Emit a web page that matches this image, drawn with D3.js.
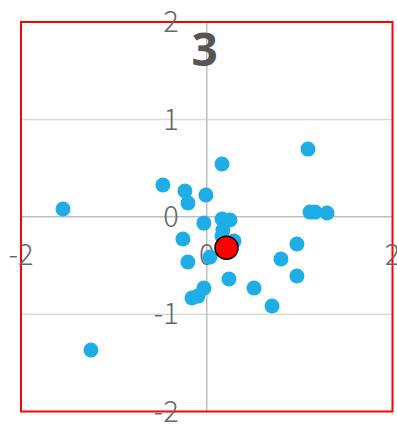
<!DOCTYPE html>
<html>
<head>
<meta charset="utf-8">
<script src="https://cdn.jsdelivr.net/npm/d3@7"></script>
<style>
  html, body { margin: 0; padding: 0; background: #fff; overflow: hidden; }
  svg { display: block; }
  .tick-label { font-family: "Noto Sans CJK JP", "Noto Sans", sans-serif; font-weight: 300; fill: #666; font-size: 29px; }
  .title { font-family: "Noto Sans", "Roboto", sans-serif; font-weight: 700; fill: #555; font-size: 46px; }
</style>
</head>
<body>
<svg id="chart" width="397" height="425"></svg>
<script>
// Scatter of the group's members, plus the highlighted one
const chartTitle = "3";
const xValues = [-1.548, -1.247, -0.472, -0.235, -0.202, -0.009, 0.164, 1.090, 1.112, 1.166,
                  1.295, -0.031, 0.164, 0.250, 0.174, 0.164, 0.293, -0.257, -0.203, 0.035,
                  0.971, 0.799, 0.971, 0.239, 0.509, 0.703, -0.030, -0.095, -0.159];
const yValues = [0.079, -1.369, 0.326, 0.264, 0.141, 0.223, 0.541, 0.695, 0.048, 0.048,
                 0.038, -0.065, -0.023, -0.034, -0.137, -0.198, -0.249, -0.229, -0.465, -0.414,
                 -0.280, -0.434, -0.609, -0.640, -0.732, -0.917, -0.732, -0.815, -0.835];
const highlightX = [0.213];
const highlightY = [-0.318];
const xTicks = [-2, 0, 2];
const yTicks = [-2, -1, 0, 1, 2];
const yGrid = [-1, 1];

const svg = d3.select("#chart");
const plotLeft = 21, plotRight = 392.5, plotTop = 22, plotBottom = 411.5;

const x = d3.scaleLinear().domain([-2, 2]).range([plotLeft, plotRight]);
const y = d3.scaleLinear().domain([-2, 2]).range([plotBottom, plotTop]);

// horizontal gridlines
svg.append("g").selectAll("line").data(yGrid).join("line")
  .attr("x1", plotLeft).attr("x2", plotRight)
  .attr("y1", d => y(d)).attr("y2", d => y(d))
  .attr("stroke", "#d9d9d9").attr("stroke-width", 1.5);

// zero axes
svg.append("line")
  .attr("x1", plotLeft).attr("x2", plotRight).attr("y1", y(0)).attr("y2", y(0))
  .attr("stroke", "#bfbfbf").attr("stroke-width", 1.5);
svg.append("line")
  .attr("x1", x(0)).attr("x2", x(0)).attr("y1", plotTop).attr("y2", plotBottom)
  .attr("stroke", "#bfbfbf").attr("stroke-width", 1.5);

// frame
svg.append("rect")
  .attr("x", plotLeft).attr("y", plotTop)
  .attr("width", plotRight - plotLeft).attr("height", plotBottom - plotTop)
  .attr("fill", "none").attr("stroke", "#ff0000").attr("stroke-width", 2);

// y tick labels
svg.append("g").selectAll("text").data(yTicks).join("text")
  .attr("class", "tick-label")
  .attr("x", x(0) - 28)
  .attr("y", d => y(d))
  .attr("dy", "0.35em")
  .attr("text-anchor", "end")
  .text(d => d);

// x tick labels
svg.append("g").selectAll("text").data(xTicks).join("text")
  .attr("class", "tick-label")
  .attr("x", d => x(d))
  .attr("y", y(0) + 38)
  .attr("dy", "0.35em")
  .attr("text-anchor", "middle")
  .text(d => d);

// title
svg.append("text").attr("class", "title")
  .attr("x", x(0) - 2).attr("y", 66)
  .attr("text-anchor", "middle")
  .text(chartTitle);

// points
const pts = xValues.map((v, i) => ({ x: v, y: yValues[i] }));
svg.append("g").selectAll("circle").data(pts).join("circle")
  .attr("cx", d => x(d.x)).attr("cy", d => y(d.y))
  .attr("r", 7.5)
  .attr("fill", "#1eade4");

const hl = highlightX.map((v, i) => ({ x: v, y: highlightY[i] }));
svg.append("g").selectAll("circle").data(hl).join("circle")
  .attr("cx", d => x(d.x)).attr("cy", d => y(d.y))
  .attr("r", 11.5)
  .attr("fill", "#ff0000")
  .attr("stroke", "#000").attr("stroke-width", 1.5);
</script>
</body>
</html>
